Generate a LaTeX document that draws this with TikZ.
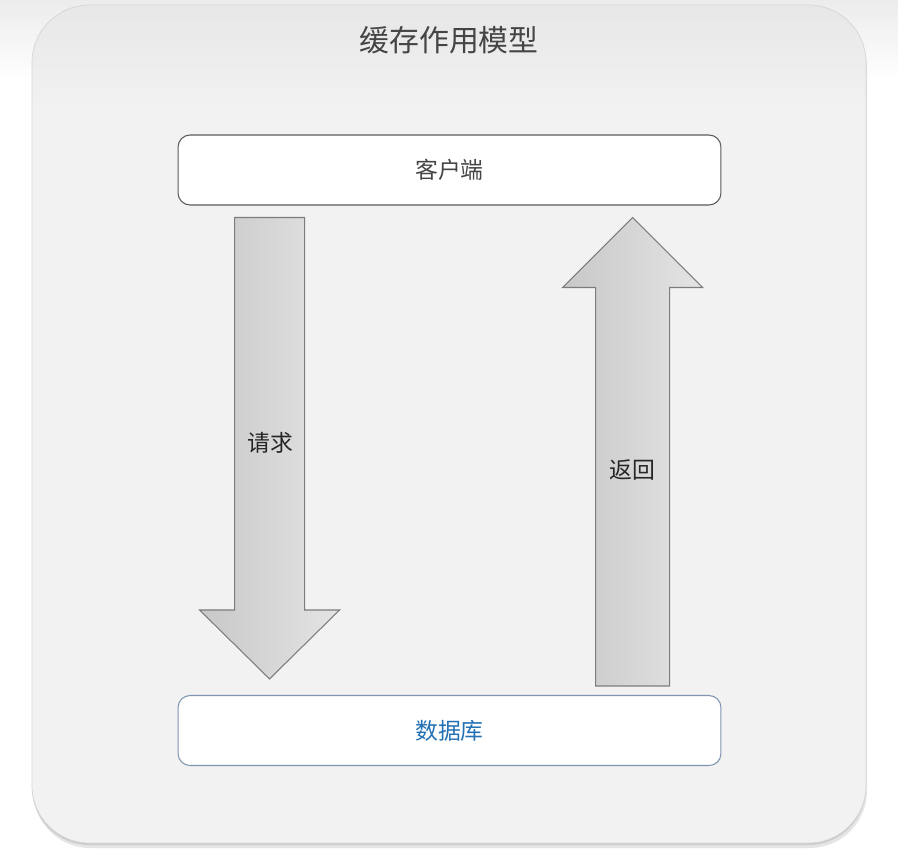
\documentclass[tikz,border=0pt]{standalone}
\usepackage{fontspec}
\setmainfont{Noto Sans CJK SC}
\usetikzlibrary{calc}

\definecolor{panelgray}{HTML}{F2F2F2}
\definecolor{paneltop}{HTML}{E7E7E7}
\definecolor{panelline}{HTML}{D6D6D6}
\definecolor{boxline}{HTML}{5A5A5A}
\definecolor{dbline}{HTML}{8195B2}
\definecolor{dbblue}{HTML}{2371B4}
\definecolor{titlegray}{HTML}{454545}
\definecolor{arrowline}{HTML}{7C7C7C}
\definecolor{arrowdark}{HTML}{C8C8C8}
\definecolor{arrowlight}{HTML}{E4E4E4}

\tikzset{
  box/.style={draw=boxline, fill=white, rounded corners=0.24cm, line width=0.6pt,
    minimum width=10.86cm, minimum height=1.4cm, font=\fontsize{13}{15}\selectfont},
  blockarrow/.style={draw=arrowline, left color=arrowdark, right color=arrowlight, line width=0.6pt},
  tag/.style={font=\fontsize{13}{15}\selectfont, text=black!85}
}

\begin{document}
\begin{tikzpicture}[x=0.02cm, y=-0.02cm]
  \useasboundingbox (0,0) rectangle (898,858);
  % screen background
  \fill[white] (0,0) rectangle (898,858);
  \shade[top color=gray!15, bottom color=white] (0,0) rectangle (898,80);
  % panel with its shadow
  \fill[gray!20, rounded corners=1.15cm] (33,10) rectangle (867,848);
  \fill[gray!40, rounded corners=1.15cm] (32,7) rectangle (866,845);
  \fill[panelgray, rounded corners=1.15cm] (32,5) rectangle (866,843);
  \begin{scope}
    \clip[rounded corners=1.15cm] (32,5) rectangle (866,843);
    \shade[top color=paneltop, bottom color=panelgray] (32,5) rectangle (866,110);
  \end{scope}
  \draw[panelline, rounded corners=1.15cm] (32,5) rectangle (866,843);

  \node[font=\fontsize{17}{20}\selectfont, text=titlegray] (title) at (449,40) {缓存作用模型};
  \node[box, text=titlegray] (client) at (449.5,170) {客户端};
  \node[box, draw=dbline, text=dbblue] (db) at (449.5,730.5) {数据库};

  % request arrow, from client down to db
  \coordinate (reqtop) at ($(client.south west)+(92,12)$);
  \coordinate (reqtip) at ($(db.north west)+(92,-16)$);
  \draw[blockarrow] ($(reqtop)+(-35,0)$) -- ($(reqtop)+(35,0)$) -- ($(reqtip)+(35,-69)$)
    -- ($(reqtip)+(70,-69)$) -- (reqtip) -- ($(reqtip)+(-70,-69)$) -- ($(reqtip)+(-35,-69)$) -- cycle;
  \node[tag] (reqlabel) at (270,443) {请求};

  % return arrow, from db up to client
  \coordinate (retbase) at ($(db.north west)+(455,-9)$);
  \coordinate (rettip) at ($(client.south west)+(455,12)$);
  \draw[blockarrow] ($(retbase)+(-37,0)$) -- ($(rettip)+(-37,70)$) -- ($(rettip)+(-70,70)$)
    -- (rettip) -- ($(rettip)+(70,70)$) -- ($(rettip)+(37,70)$) -- ($(retbase)+(37,0)$) -- cycle;
  \node[tag] (retlabel) at (632,470) {返回};
\end{tikzpicture}
\end{document}
